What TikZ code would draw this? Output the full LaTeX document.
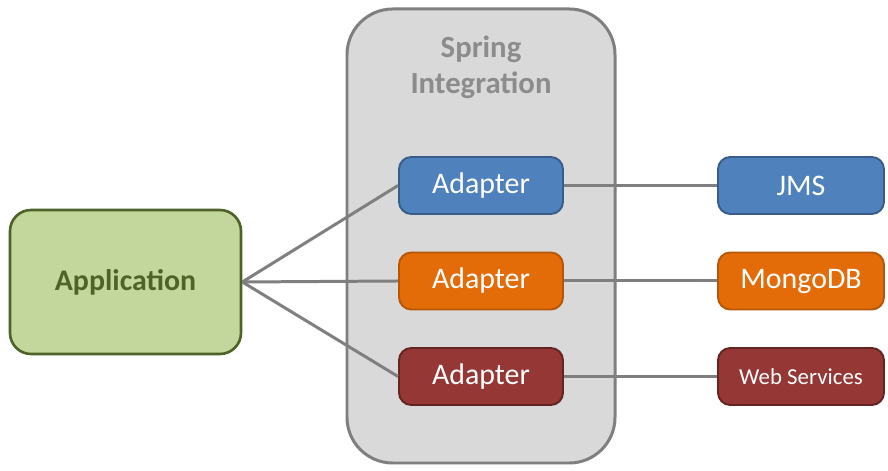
\documentclass[tikz,border=0pt]{standalone}
\usepackage{fontspec}
\setmainfont{Carlito}
\definecolor{boxgray}{HTML}{D9D9D9}
\definecolor{linegray}{HTML}{7F7F7F}
\definecolor{appfill}{HTML}{C3D69B}
\definecolor{appline}{HTML}{4F6228}
\definecolor{bluefill}{HTML}{4F81BD}
\definecolor{blueline}{HTML}{385D8A}
\definecolor{orangefill}{HTML}{E36C09}
\definecolor{orangeline}{HTML}{B65708}
\definecolor{redfill}{HTML}{953735}
\definecolor{redline}{HTML}{632523}
\tikzset{
  block/.style={draw, line width=1.1pt, rounded corners=7pt, minimum width=3.28cm,
    minimum height=1.14cm, text=white, font=\fontsize{17}{20}\selectfont},
  blueblock/.style={block, fill=bluefill, draw=blueline},
  orangeblock/.style={block, fill=orangefill, draw=orangeline},
  redblock/.style={block, fill=redfill, draw=redline},
  link/.style={draw=linegray, line width=1.7pt}
}
\begin{document}
\begin{tikzpicture}
\useasboundingbox[fill=white] (0,0) rectangle (17.76,9.42);
\node [draw=linegray, fill=boxgray, line width=1.7pt, rounded corners=26pt,
  minimum width=5.36cm, minimum height=9.08cm] (si) at (9.62,4.70) {};
\node [text=linegray!90, font=\bfseries\fontsize{17.5}{20.5}\selectfont, align=center] (sititle) at (9.62,8.08) {Spring\\Integration};

\node [draw=appline, fill=appfill, line width=1.5pt, rounded corners=12pt, minimum width=4.62cm,
  minimum height=2.88cm, text=appline, font=\bfseries\fontsize{17}{20}\selectfont] (app) at (2.51,3.78) {Application};

\node [blueblock] (ad1) at (9.62,5.71) {Adapter};
\node [orangeblock] (ad2) at (9.62,3.80) {Adapter};
\node [redblock] (ad3) at (9.62,1.89) {Adapter};

\node [blueblock, minimum width=3.32cm] (jms) at (16.02,5.71) {JMS};
\node [orangeblock, minimum width=3.32cm] (mongo) at (16.02,3.80) {MongoDB};
\node [redblock, minimum width=3.32cm, font=\fontsize{13}{16}\selectfont] (ws) at (16.02,1.89) {Web Services};

\draw[link] (app.east) -- (ad1.west);
\draw[link] (app.east) -- (ad2.west);
\draw[link] (app.east) -- (ad3.west);
\draw[link] (ad1.east) -- (jms.west);
\draw[link] (ad2.east) -- (mongo.west);
\draw[link] (ad3.east) -- (ws.west);
\end{tikzpicture}
\end{document}
